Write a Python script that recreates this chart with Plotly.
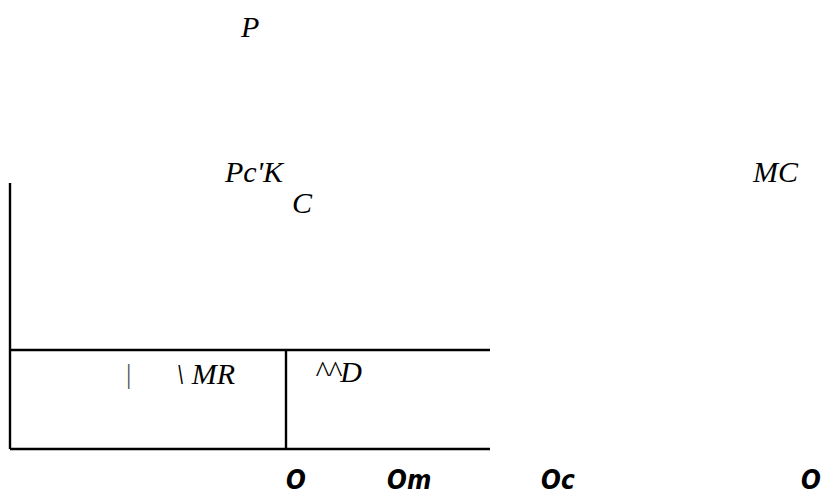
import plotly.graph_objects as go

# ---- data (diagram coordinates: quantity q, price p) ----
axis_top = 266          # top of the price axis
q_max = 480             # right end of the quantity axis
price_level = 99        # horizontal price line (Pc)
q_level = 276           # vertical quantity line

curve_labels = ["P", "Pc'K", "C", "MC", "\\ MR", "^^D"]
curve_label_q = [239, 244, 292, 765, 195, 328]
curve_label_p = [423, 278, 247, 278, 76, 78]

bar_label = "|"
bar_label_q = 118
bar_label_p = 75

tick_labels = ["O", "Om", "Oc", "O"]
tick_q = [286, 399, 548, 801]
tick_p = -31

fig = go.Figure()

line_style = dict(color="black", width=2.4)
# price axis
fig.add_trace(go.Scatter(x=[0, 0], y=[0, axis_top], mode="lines", line=line_style))
# quantity axis
fig.add_trace(go.Scatter(x=[0, q_max], y=[0, 0], mode="lines", line=line_style))
# horizontal price line
fig.add_trace(go.Scatter(x=[0, q_max], y=[price_level, price_level], mode="lines", line=line_style))
# vertical quantity line
fig.add_trace(go.Scatter(x=[q_level, q_level], y=[0, price_level], mode="lines", line=line_style))

serif = dict(family="Liberation Serif", size=30, color="black", style="italic")
for t, q, p in zip(curve_labels, curve_label_q, curve_label_p):
    fig.add_annotation(x=q, y=p, text=t, showarrow=False, xref="x", yref="y",
                       xanchor="center", yanchor="middle", font=serif)

fig.add_annotation(x=bar_label_q, y=bar_label_p, text=bar_label, showarrow=False,
                   xref="x", yref="y", xanchor="center", yanchor="middle",
                   font=dict(family="Liberation Serif", size=27, color="#555555"))

sans = dict(family="DejaVu Sans Condensed", size=26, color="black", style="italic", weight="bold")
for t, q in zip(tick_labels, tick_q):
    fig.add_annotation(x=q, y=tick_p, text=t, showarrow=False, xref="x", yref="y",
                       xanchor="center", yanchor="middle", font=sans)

fig.update_layout(
    width=823, height=494,
    margin=dict(l=0, r=0, t=0, b=0),
    paper_bgcolor="white", plot_bgcolor="white",
    showlegend=False,
    xaxis=dict(range=[-10, 813], visible=False, fixedrange=True),
    yaxis=dict(range=[-45, 449], visible=False, fixedrange=True),
)

# remove the page's default body margin so the figure fills the window exactly
fig.write_html("out.html",
               config={"displayModeBar": False, "staticPlot": True},
               post_script="document.body.style.margin='0px';"
                           "document.documentElement.style.overflow='hidden';")
